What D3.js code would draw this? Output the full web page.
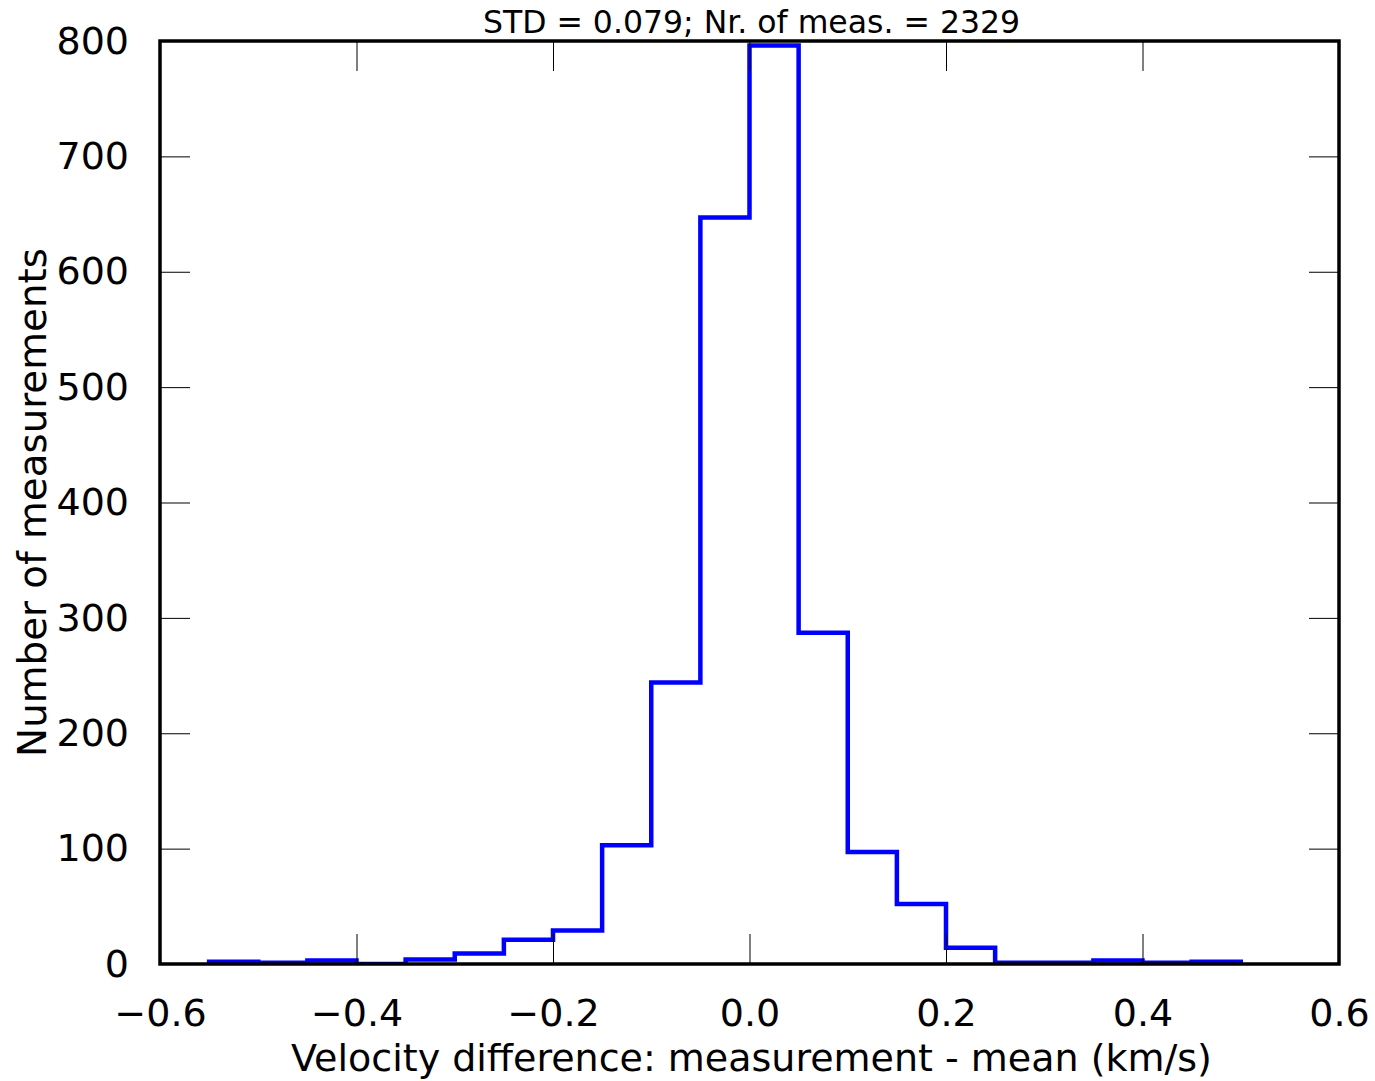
<!DOCTYPE html>
<html>
<head>
<meta charset="utf-8">
<script src="https://cdn.jsdelivr.net/npm/d3@7"></script>
<style>
  body { margin: 0; background: #fff; }
  text { font-family: "DejaVu Sans", sans-serif; fill: #000; }
</style>
</head>
<body>
<svg id="svg" width="1375" height="1081"></svg>
<script>
// histogram bins (edges) and counts
var binEdges = [-0.55, -0.5, -0.45, -0.4, -0.35, -0.3, -0.25, -0.2, -0.15, -0.1, -0.05,
	0.0, 0.05, 0.1, 0.15, 0.2, 0.25, 0.3, 0.35, 0.4, 0.45, 0.5];
var counts = [2, 1, 3, 0, 4, 9, 21, 29, 103, 244, 647,
	796, 287, 97, 52, 14, 1, 1, 3, 1, 2];

var xTicks = [-0.6, -0.4, -0.2, 0.0, 0.2, 0.4, 0.6];
var yTicks = [0, 100, 200, 300, 400, 500, 600, 700, 800];

var titleText = "STD = 0.079; Nr. of meas. = 2329";
var xLabel = "Velocity difference: measurement - mean (km/s)";
var yLabel = "Number of measurements";

var plotLeft = 160, plotRight = 1339, plotTop = 41, plotBottom = 964;

var svg = d3.select('#svg');

var x = d3.scaleLinear().domain([-0.6, 0.6]).range([plotLeft, plotRight]);
var y = d3.scaleLinear().domain([0, 800]).range([plotBottom, plotTop]);

svg.append('defs').append('clipPath')
	.attr('id', 'plotClip')
	.append('rect')
	.attr('x', plotLeft).attr('y', plotTop)
	.attr('width', plotRight - plotLeft).attr('height', plotBottom - plotTop);

// step outline of the histogram
var pts = [[binEdges[0], 0]];
counts.forEach(function(c, i){
	pts.push([binEdges[i], c]);
	pts.push([binEdges[i + 1], c]);
});
pts.push([binEdges[binEdges.length - 1], 0]);

svg.append('path')
	.attr('clip-path', 'url(#plotClip)')
	.attr('d', d3.line().x(function(d){ return x(d[0]); }).y(function(d){ return y(d[1]); })(pts))
	.style('fill', 'none')
	.style('stroke', '#0000ff')
	.style('stroke-width', 4.5)
	.style('stroke-linejoin', 'miter');

// inward ticks on all four sides
function tickAxis(axis, tx, ty){
	var g = svg.append('g')
		.attr('transform', 'translate(' + tx + ',' + ty + ')')
		.call(axis);
	g.select('.domain').remove();
	g.selectAll('line').style('stroke', '#000').style('stroke-width', 1);
	return g;
}
tickAxis(d3.axisBottom(x).tickValues(xTicks).tickSizeInner(-30).tickSizeOuter(0).tickFormat(''), 0, plotBottom);
tickAxis(d3.axisTop(x).tickValues(xTicks).tickSizeInner(-30).tickSizeOuter(0).tickFormat(''), 0, plotTop);
tickAxis(d3.axisLeft(y).tickValues(yTicks).tickSizeInner(-30).tickSizeOuter(0).tickFormat(''), plotLeft, 0);
tickAxis(d3.axisRight(y).tickValues(yTicks).tickSizeInner(-30).tickSizeOuter(0).tickFormat(''), plotRight, 0);

// tick labels
var xl = svg.append('g')
	.attr('transform', 'translate(0,' + plotBottom + ')')
	.call(d3.axisBottom(x).tickValues(xTicks).tickSize(0).tickPadding(35).tickFormat(d3.format('.1f')));
xl.select('.domain').remove();
xl.selectAll('text').style('font-size', '38px').style('font-family', '"DejaVu Sans", sans-serif');

var yl = svg.append('g')
	.attr('transform', 'translate(' + plotLeft + ',0)')
	.call(d3.axisLeft(y).tickValues(yTicks).tickSize(0).tickPadding(31).tickFormat(d3.format('d')));
yl.select('.domain').remove();
yl.selectAll('text').style('font-size', '38px').style('font-family', '"DejaVu Sans", sans-serif');

// frame
svg.append('rect')
	.attr('x', plotLeft).attr('y', plotTop)
	.attr('width', plotRight - plotLeft).attr('height', plotBottom - plotTop)
	.style('fill', 'none')
	.style('stroke', '#000')
	.style('stroke-width', 3.5);

svg.append('text')
	.attr('x', (plotLeft + plotRight) / 2 + 2).attr('y', 33)
	.attr('text-anchor', 'middle')
	.style('font-size', '31.5px')
	.text(titleText);

svg.append('text')
	.attr('x', (plotLeft + plotRight) / 2 + 2).attr('y', 1071)
	.attr('text-anchor', 'middle')
	.style('font-size', '38px')
	.text(xLabel);

svg.append('text')
	.attr('transform', 'translate(46,' + ((plotTop + plotBottom) / 2) + ') rotate(-90)')
	.attr('text-anchor', 'middle')
	.style('font-size', '38.8px')
	.text(yLabel);
</script>
</body>
</html>
